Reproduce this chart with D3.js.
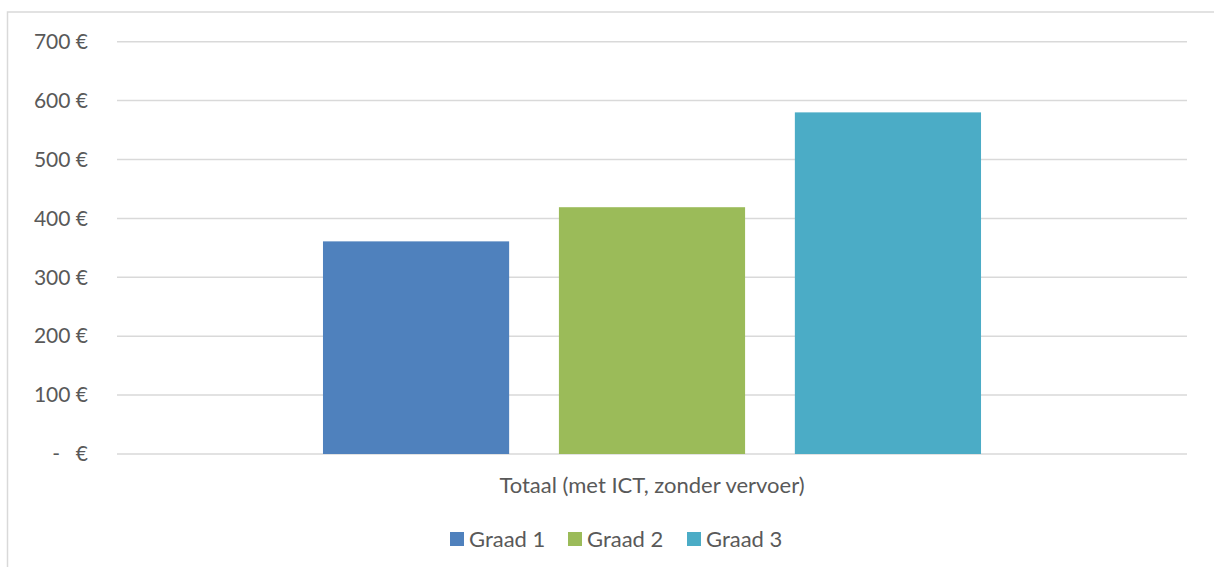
<!DOCTYPE html>
<html>
<head>
<meta charset="utf-8">
<script src="https://cdn.jsdelivr.net/npm/d3@7"></script>
<style>
  body { margin: 0; background: #fff; }
  svg text { font-family: Lato, "Open Sans", sans-serif; fill: #595959; }
</style>
</head>
<body>
<div id="chart"></div>
<script>
// data
var categories = ["Totaal (met ICT, zonder vervoer)"];
var seriesNames = ["Graad 1", "Graad 2", "Graad 3"];
var seriesValues = [361, 419, 580];
var colors = ["#4F81BD", "#9BBB59", "#4BACC6"];
var yTicks = [0, 100, 200, 300, 400, 500, 600, 700];

var W = 1214, H = 567;
var margin = {top: 41.7, right: 27, bottom: 113, left: 117},
    width = W - margin.left - margin.right,
    height = H - margin.top - margin.bottom;

var root = d3.select("#chart").append("svg")
    .attr("width", W)
    .attr("height", H);

// chart area border (cropped on right/bottom in the reference)
root.append("rect")
    .attr("x", 7.5).attr("y", 12)
    .attr("width", W + 10).attr("height", H + 10)
    .attr("fill", "none")
    .attr("stroke", "#d9d9d9")
    .attr("stroke-width", 1.5);

var svg = root.append("g")
    .attr("transform", "translate(" + margin.left + "," + margin.top + ")");

var y = d3.scaleLinear().domain([0, 700]).range([height, 0]);
var x0 = d3.scaleBand().domain(categories).range([0, width]);
var x1 = d3.scaleBand().domain(seriesNames)
    .range([x0.bandwidth() * 0.1925, x0.bandwidth() * 0.8075])
    .paddingInner(50 / 237);

// gridlines
svg.append("g")
    .selectAll("line")
    .data(yTicks)
    .enter()
    .append("line")
    .attr("x1", 0)
    .attr("x2", width)
    .attr("y1", function(d) { return y(d); })
    .attr("y2", function(d) { return y(d); })
    .attr("stroke", "#d9d9d9")
    .attr("stroke-width", 1.5);

// y axis labels
var yAxis = d3.axisLeft(y).tickValues(yTicks).tickSize(0).tickPadding(0)
    .tickFormat(function(d) { return d === 0 ? "-" : d + " €"; });
var ya = svg.append("g")
    .attr("transform", "translate(" + (-29) + ",0)")
    .call(yAxis);
ya.select(".domain").remove();
ya.selectAll("text")
    .attr("fill", "#595959")
    .style("font-size", "21px")
    .style("font-family", "Lato, 'Open Sans', sans-serif");
// zero label: "-   €" in accounting style
ya.selectAll(".tick")
    .filter(function(d) { return d === 0; })
    .each(function() {
        var t = d3.select(this).select("text");
        t.text("€");
        d3.select(this).append("text")
            .attr("x", -28)
            .attr("dy", "0.32em")
            .attr("text-anchor", "end")
            .attr("fill", "#595959")
            .style("font-size", "21px")
            .text("-");
    });

// bars
var groups = svg.selectAll(".cat")
    .data(categories)
    .enter()
    .append("g")
    .attr("transform", function(d) { return "translate(" + x0(d) + ",0)"; });

groups.selectAll("rect")
    .data(seriesNames.map(function(s, i) { return {name: s, value: seriesValues[i], color: colors[i]}; }))
    .enter()
    .append("rect")
    .attr("x", function(d) { return x1(d.name); })
    .attr("y", function(d) { return y(d.value); })
    .attr("width", x1.bandwidth())
    .attr("height", function(d) { return height - y(d.value); })
    .attr("fill", function(d) { return d.color; });

// category label
var xAxis = d3.axisBottom(x0).tickSize(0).tickPadding(0);
var xa = svg.append("g")
    .attr("transform", "translate(0," + height + ")")
    .call(xAxis);
xa.select(".domain").remove();
xa.selectAll("text")
    .attr("y", 39)
    .attr("dy", 0)
    .attr("fill", "#595959")
    .style("font-size", "22px")
    .style("font-family", "Lato, 'Open Sans', sans-serif");

// legend
var legendX = [450, 568, 687];
var legend = root.append("g");
var items = legend.selectAll("g")
    .data(seriesNames)
    .enter()
    .append("g")
    .attr("transform", function(d, i) { return "translate(" + legendX[i] + ",532)"; });
items.append("rect")
    .attr("width", 14)
    .attr("height", 14)
    .attr("fill", function(d, i) { return colors[i]; });
items.append("text")
    .attr("x", 19)
    .attr("y", 15)
    .style("font-size", "22px")
    .text(function(d) { return d; });
</script>
</body>
</html>
